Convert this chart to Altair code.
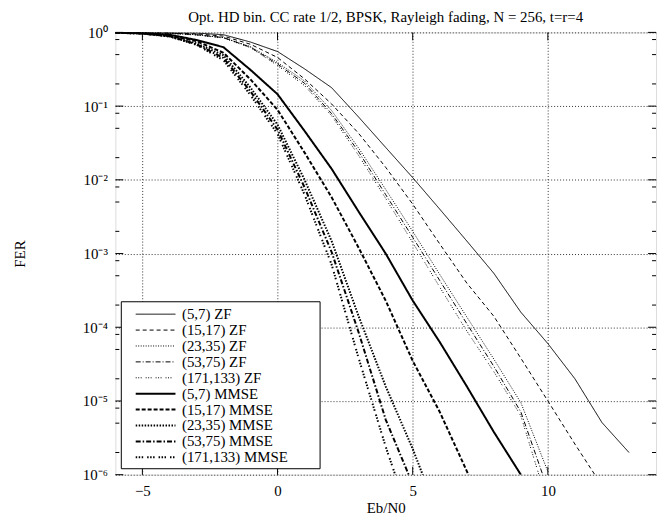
import json
import altair as alt
import pandas as pd

TITLE = "Opt. HD bin. CC rate 1/2, BPSK, Rayleigh fading, N = 256, t=r=4"

SERIES = ["(5,7) ZF", "(15,17) ZF", "(23,35) ZF", "(53,75) ZF", "(171,133) ZF",
          "(5,7) MMSE", "(15,17) MMSE", "(23,35) MMSE", "(53,75) MMSE", "(171,133) MMSE"]

# Eb/N0 grids (dB)
EBN0_ZF57 = [-6, -5, -4, -3, -2, -1, 0, 1, 2, 3, 4, 5, 6, 7, 8, 9, 10, 11, 12, 13]
EBN0_ZF1517 = [-6, -5, -4, -3, -2, -1, 0, 1, 2, 3, 4, 5, 6, 7, 8, 9, 10, 11, 12]
EBN0_ZF_HI = [-6, -5, -4, -3, -2, -1, 0, 1, 2, 3, 4, 5, 6, 7, 8, 9, 10]
EBN0_MMSE57 = [-6, -5, -4, -3, -2, -1, 0, 1, 2, 3, 4, 5, 6, 7, 8, 9]
EBN0_MMSE1517 = [-6, -5, -4, -3, -2, -1, 0, 1, 2, 3, 4, 5, 6, 7, 8]
EBN0_MMSE2335 = [-6, -5, -4, -3, -2, -1, 0, 1, 2, 3, 4, 5, 6]
EBN0_MMSE_HI = [-6, -5, -4, -3, -2, -1, 0, 1, 2, 3, 4, 5]

# FER values
FER_ZF57 = [1.0, 0.995, 0.99, 0.98, 0.93, 0.74, 0.55, 0.32, 0.178, 0.071, 0.0275,
            0.0107, 0.0040, 0.00148, 5.4e-4, 1.6e-4, 6.0e-5, 2.0e-5, 5.1e-6, 2.0e-6]
FER_ZF1517 = [0.998, 0.993, 0.98, 0.955, 0.89, 0.69, 0.457, 0.234, 0.107, 0.0427,
              0.0148, 0.00468, 0.00135, 3.98e-4, 1.41e-4, 3.8e-5, 1.0e-5, 2.6e-6, 7.1e-7]
FER_ZF2335 = [0.997, 0.99, 0.975, 0.93, 0.85, 0.64, 0.39, 0.219, 0.087, 0.0269,
              0.0074, 0.0020, 5.2e-4, 1.38e-4, 3.7e-5, 9.5e-6, 1.1e-6]
FER_ZF5375 = [0.997, 0.99, 0.975, 0.93, 0.85, 0.63, 0.372, 0.204, 0.079, 0.024,
              0.0063, 0.00166, 4.3e-4, 1.12e-4, 2.95e-5, 7.1e-6, 6.3e-7]
FER_ZF171133 = [0.997, 0.99, 0.97, 0.92, 0.84, 0.62, 0.355, 0.19, 0.074, 0.0214,
                0.0056, 0.00141, 3.5e-4, 8.9e-5, 2.5e-5, 6.3e-6, 4.0e-7]
FER_MMSE57 = [0.993, 0.977, 0.93, 0.79, 0.63, 0.31, 0.145, 0.046, 0.0141, 0.0037,
              0.0010, 2.3e-4, 6.3e-5, 1.58e-5, 3.8e-6, 1.0e-6]
FER_MMSE1517 = [0.99, 0.972, 0.91, 0.76, 0.53, 0.23, 0.089, 0.0234, 0.0058, 0.0012,
                2.3e-4, 3.5e-5, 7.1e-6, 1.12e-6, 1.6e-7]
FER_MMSE2335 = [0.99, 0.966, 0.89, 0.71, 0.49, 0.178, 0.056, 0.0100, 0.00148,
                1.41e-4, 1.58e-5, 2.24e-6, 2.5e-7]
FER_MMSE5375 = [0.99, 0.966, 0.89, 0.69, 0.45, 0.158, 0.048, 0.0079, 0.00105,
                8.5e-5, 5.6e-6, 7.4e-7]
FER_MMSE171133 = [0.99, 0.962, 0.88, 0.68, 0.42, 0.141, 0.042, 0.0063, 7.1e-4,
                  3.8e-5, 2.4e-6, 2.0e-7]

X_TICKS = [-5, 0, 5, 10]
Y_MAJOR = [1, 1e-1, 1e-2, 1e-3, 1e-4, 1e-5, 1e-6]
Y_LABELS = ["10⁰", "10⁻¹", "10⁻²", "10⁻³", "10⁻⁴", "10⁻⁵", "10⁻⁶"]
MINOR_MULT = [2, 5, 8]
Y_MINOR = [m * d for d in [1e-1, 1e-2, 1e-3, 1e-4, 1e-5, 1e-6] for m in MINOR_MULT]

DASHES = [[1, 0], [4, 3], [1, 1.5], [5, 2, 1, 2], [1, 1.5, 1, 1.5, 1, 4],
          [1, 0], [4, 2], [1.5, 1.5], [5, 2, 1.5, 2], [1.5, 1.5, 1.5, 1.5, 1.5, 4]]
WIDTHS = [1.0, 1.0, 1.0, 1.0, 1.0, 2.0, 2.0, 2.0, 2.0, 2.0]

pairs = [
    (SERIES[0], EBN0_ZF57, FER_ZF57),
    (SERIES[1], EBN0_ZF1517, FER_ZF1517),
    (SERIES[2], EBN0_ZF_HI, FER_ZF2335),
    (SERIES[3], EBN0_ZF_HI, FER_ZF5375),
    (SERIES[4], EBN0_ZF_HI, FER_ZF171133),
    (SERIES[5], EBN0_MMSE57, FER_MMSE57),
    (SERIES[6], EBN0_MMSE1517, FER_MMSE1517),
    (SERIES[7], EBN0_MMSE2335, FER_MMSE2335),
    (SERIES[8], EBN0_MMSE_HI, FER_MMSE5375),
    (SERIES[9], EBN0_MMSE_HI, FER_MMSE171133),
]
rows = []
for name, xs, ys in pairs:
    for x, y in zip(xs, ys):
        rows.append({"series": name, "ebn0": x, "fer": y})
df = pd.DataFrame(rows)

FONT = "Liberation Serif"
W, H = 544, 445

xscale = alt.Scale(domain=[-6, 14], nice=False, zero=False)
yscale = alt.Scale(type="log", domain=[1e-6, 1], nice=False)

label_expr = json.dumps(Y_LABELS, ensure_ascii=False) + "[round(-log(datum.value)/LN10)]"

X_AXIS = alt.Axis(
    values=X_TICKS, title="Eb/N0", grid=True, gridDash=[1, 2], gridColor="#333",
    gridWidth=1, ticks=False, domain=False, labelFont=FONT, labelFontSize=15,
    labelColor="black", labelPadding=9, titleFont=FONT, titleFontSize=15,
    titleFontWeight="normal", titleColor="black", titlePadding=2)
Y_AXIS = alt.Axis(
    values=Y_MAJOR, labelExpr=label_expr, title="FER", grid=True, gridDash=[1, 2],
    gridColor="#333", gridWidth=1, ticks=False, domain=False, labelFont=FONT,
    labelFontSize=15, labelColor="black", labelPadding=8, titleFont=FONT,
    titleFontSize=15, titleFontWeight="normal", titleColor="black",
    titleAngle=270, titleX=-88, titleY=H / 2)

legend = alt.Legend(
    orient="none", legendX=6, legendY=271, title=None, padding=5,
    symbolType="M-3.333,0H3.333", symbolSize=144, symbolStrokeColor="black",
    symbolOffset=22, labelOffset=19, rowPadding=0,
    labelFont=FONT, labelFontSize=15, labelColor="black", labelLimit=400,
)

lines = alt.Chart(df).mark_line(clip=True, color="black").encode(
    x=alt.X("ebn0:Q", scale=xscale, axis=X_AXIS),
    y=alt.Y("fer:Q", scale=yscale, axis=Y_AXIS),
    strokeDash=alt.StrokeDash("series:O", sort=SERIES,
                              scale=alt.Scale(type="ordinal", domain=SERIES, range=DASHES),
                              legend=legend),
    strokeWidth=alt.StrokeWidth("series:O", sort=SERIES,
                                scale=alt.Scale(type="ordinal", domain=SERIES, range=WIDTHS),
                                legend=legend),
)

# white key box behind the legend entries
key_box = alt.Chart(pd.DataFrame({"k": [0]})).mark_rect(
    fill="white", stroke="black", strokeWidth=1).encode(
    x=alt.value(6), x2=alt.value(206), y=alt.value(271), y2=alt.value(439))

ymaj_df = pd.DataFrame({"fer": Y_MAJOR})
ymin_df = pd.DataFrame({"fer": Y_MINOR})
xmaj_df = pd.DataFrame({"ebn0": X_TICKS})

def yticks(d, length):
    left = alt.Chart(d).mark_rule(color="black", strokeWidth=1).encode(
        y=alt.Y("fer:Q", scale=yscale, axis=Y_AXIS), x=alt.value(0), x2=alt.value(length))
    right = alt.Chart(d).mark_rule(color="black", strokeWidth=1).encode(
        y=alt.Y("fer:Q", scale=yscale, axis=Y_AXIS), x=alt.value(W - length), x2=alt.value(W))
    return [left, right]

def xticks(d, length):
    bottom = alt.Chart(d).mark_rule(color="black", strokeWidth=1).encode(
        x=alt.X("ebn0:Q", scale=xscale, axis=X_AXIS), y=alt.value(H - length), y2=alt.value(H))
    top = alt.Chart(d).mark_rule(color="black", strokeWidth=1).encode(
        x=alt.X("ebn0:Q", scale=xscale, axis=X_AXIS), y=alt.value(0), y2=alt.value(length))
    return [bottom, top]

layers = [lines] + yticks(ymaj_df, 8) + yticks(ymin_df, 4) + xticks(xmaj_df, 8) + [key_box]

chart = alt.layer(*layers).properties(
    width=W, height=H,
    title=alt.TitleParams(TITLE, font=FONT, fontSize=15, fontWeight="normal",
                          color="black", anchor="middle", offset=0),
    autosize=alt.AutoSizeParams(type="none"),
    padding={"left": 108, "top": 23, "right": 4, "bottom": 39},
).configure_view(stroke="black", strokeWidth=1).configure(background="white")

chart.save("out.html", embed_options={"renderer": "svg", "actions": False})
